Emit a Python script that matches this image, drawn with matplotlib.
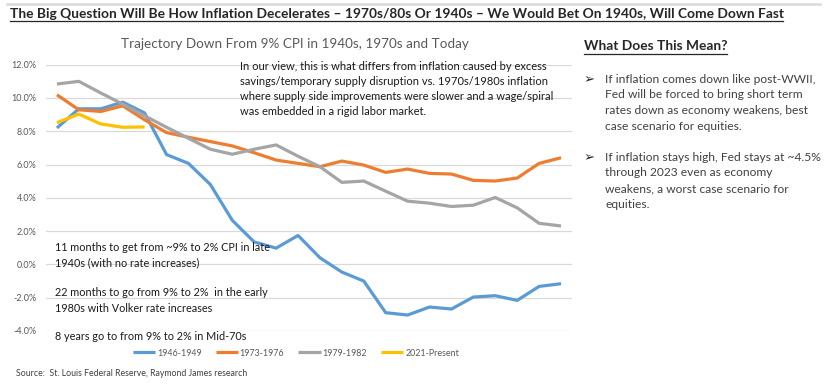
import matplotlib
matplotlib.use("Agg")
import matplotlib.pyplot as plt
from matplotlib.lines import Line2D
import numpy as np

###Data###
series_names = ["1946-1949", "1973-1976", "1979-1982", "2021-Present"]
cpi_1946 = [8.2, 9.35, 9.35, 9.75, 9.1, 6.6, 6.07, 4.8, 2.65, 1.35, 0.98, 1.74,
            0.4, -0.46, -1.0, -2.9, -3.04, -2.56, -2.68, -1.96, -1.88, -2.16, -1.32, -1.16]
cpi_1973 = [10.19, 9.29, 9.19, 9.53, 8.69, 7.92, 7.64, 7.38, 7.12, 6.71, 6.27, 6.07,
            5.87, 6.21, 5.97, 5.53, 5.73, 5.47, 5.43, 5.05, 5.01, 5.19, 6.07, 6.41]
cpi_1979 = [10.84, 11.0, 10.3, 9.63, 8.93, 8.24, 7.58, 6.92, 6.62, 6.92, 7.18, 6.5,
            5.87, 4.93, 5.01, 4.4, 3.8, 3.68, 3.48, 3.56, 4.02, 3.4, 2.47, 2.31]
cpi_2021 = [8.52, 9.03, 8.44, 8.24, 8.26]
y_ticks = [-4, -2, 0, 2, 4, 6, 8, 10, 12]

colors = ["#5B9BD5", "#ED7D31", "#A5A5A5", "#FFC000"]

title = ("The Big Question Will Be How Inflation Decelerates \u2013 1970s/80s Or 1940s \u2013 "
         "We Would Bet On 1940s, Will Come Down Fast")
chart_title = "Trajectory Down From 9% CPI in 1940s, 1970s and Today"
view_lines = ["In our view, this is what differs from inflation caused by excess",
              "savings/temporary supply disruption vs. 1970s/1980s inflation",
              "where supply side improvements were slower and a wage/spiral",
              "was embedded in a rigid labor market."]
note_lines = [["11 months to get from ~9% to 2% CPI in late", "1940s (with no rate increases)"],
              ["22 months to go from 9% to 2%  in the early", "1980s with Volker rate increases"],
              ["8 years go to from 9% to 2% in Mid-70s"]]
side_head = "What Does This Mean?"
bullets = [["If inflation comes down like post-WWII,", "Fed will be forced to bring short term",
            "rates down as economy weakens, best", "case scenario for equities."],
           ["If inflation stays high, Fed stays at ~4.5%", "through 2023 even as economy",
            "weakens, a worst case scenario for", "equities."]]
source = "Source:  St. Louis Federal Reserve, Raymond James research"

W, H = 839, 388
plt.rcParams["font.family"] = ["Lato", "DejaVu Sans"]
fig = plt.figure(figsize=(W / 100, H / 100), dpi=100)


def put(x, y, s, **kw):
    # place text by pixel position (top-left origin)
    return fig.text(x / W, 1 - y / H, s, va="center", **kw)


def fit(texts, ref, width):
    # scale a group of texts so that ref has the given pixel width
    r = fig.canvas.get_renderer()
    k = width / ref.get_window_extent(renderer=r).width
    for t in texts:
        t.set_fontsize(t.get_fontsize() * k)


def hline(x0, x1, y, **kw):
    fig.add_artist(Line2D([x0 / W, x1 / W], [1 - y / H] * 2, **kw))


###Chart###
ax = fig.add_axes([46 / W, 1 - 331 / H, 526 / W, (331 - 64.7) / H])
x = np.arange(len(cpi_1946))
for vals, c, name in zip([cpi_1946, cpi_1973, cpi_1979, cpi_2021], colors, series_names):
    ax.plot(x[:len(vals)], vals, color=c, lw=2.3, label=name,
            solid_joinstyle="round", solid_capstyle="butt")
ax.set_xlim(-0.5, 23.5)
ax.set_ylim(-4, 12)
ax.set_yticks(y_ticks)
ax.set_yticklabels([f"{v:.1f}%" for v in y_ticks])
ax.set_xticks([])
ax.tick_params(axis="y", length=0, pad=7, labelsize=6.5, labelcolor="#595959")
ax.grid(axis="y", color="#d9d9d9", lw=0.9)
ax.set_axisbelow(True)
for s in ax.spines.values():
    s.set_visible(False)
ax.legend(loc="center", bbox_to_anchor=(0.475, -0.083), ncol=4, frameon=False,
          fontsize=6.4, handlelength=2.5, handletextpad=0.2, columnspacing=1.6,
          labelcolor="#595959", borderaxespad=0)

###Texts###
hline(7, 820, 4, color="#d9d9d9", lw=1.8)
t = put(10, 14, title, fontsize=10, weight="bold", color="#262626")
fit([t], t, 773)
hline(10, 783, 21, color="#262626", lw=0.9)

t = put(121, 44, chart_title, fontsize=10, color="#595959")
fit([t], t, 347)

grp = [put(240, 66.5 + i * 15.1, s, fontsize=8, color="#1a1a1a") for i, s in enumerate(view_lines)]
fit(grp, grp[2], 315)

grp = []
for y0, lines in zip([247.5, 292.5, 336.7], note_lines):
    for j, s in enumerate(lines):
        grp.append(put(55, y0 + j * 15.5, s, fontsize=8, color="#1a1a1a"))
fit(grp, grp[0], 216)

t = put(584, 46, side_head, fontsize=10, weight="bold", color="#262626")
fit([t], t, 143)
hline(584, 727, 53.5, color="#262626", lw=0.9)

grp = []
for y0, lines in zip([79.3, 157.3], bullets):
    put(584, y0, "\u27a2", fontsize=9.5, color="#262626")
    for j, s in enumerate(lines):
        grp.append(put(605, y0 + j * 15.6, s, fontsize=8, color="#404040"))
fit(grp, grp[4], 217)

t = put(16, 373.5, source, fontsize=6, color="#404040")
fit([t], t, 231)

fig.savefig("out.png", dpi=100)
